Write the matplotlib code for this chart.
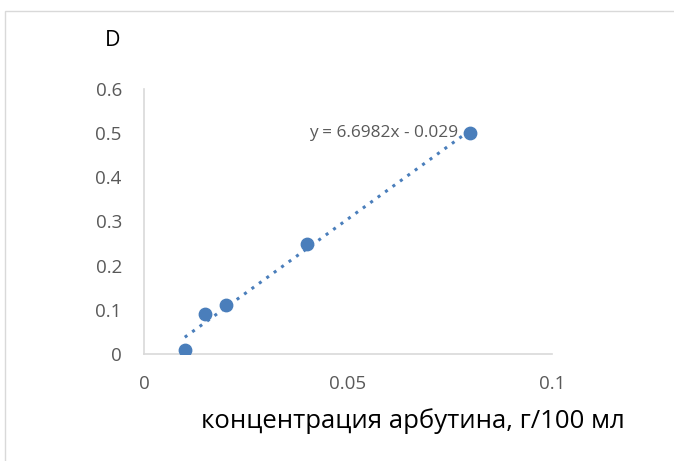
import matplotlib
matplotlib.use('Agg')
import matplotlib.pyplot as plt
from matplotlib.patches import Rectangle
import numpy as np

conc = [0.01, 0.015, 0.02, 0.04, 0.08]
absorb = [0.01, 0.09, 0.11, 0.25, 0.5]
slope, intercept = 6.6982, -0.029
xticks = [0, 0.05, 0.1]
xticklabels = ['0', '0.05', '0.1']
yticks = [0, 0.1, 0.2, 0.3, 0.4, 0.5, 0.6]
yticklabels = ['0', '0.1', '0.2', '0.3', '0.4', '0.5', '0.6']

plt.rcParams['font.family'] = ['Open Sans', 'DejaVu Sans']
blue = '#4a7ebb'
grey = '#595959'

fig = plt.figure(figsize=(6.74, 4.61), dpi=100)
fig.patches.append(Rectangle((5 / 674, -0.1), 1.2, 1.1 - 11 / 461, transform=fig.transFigure,
                             fill=False, edgecolor='#d9d9d9', linewidth=1))
ax = fig.add_axes([144 / 674, 107 / 461, 408 / 674, 265 / 461])

# trendline over the data range
tx = np.array([min(conc), max(conc)])
ax.plot(tx, slope * tx + intercept, linestyle=(0, (1, 2)), color=blue, linewidth=2.2)
ax.scatter(conc, absorb, s=80, color=blue, zorder=3)
ax.text(0.0405, 0.5, 'y = 6.6982x - 0.029', color=grey, fontsize=12.4, va='center', ha='left')

ax.set_xlim(0, 0.1)
ax.set_ylim(0, 0.6)
ax.set_xticks(xticks)
ax.set_xticklabels(xticklabels)
ax.set_yticks(yticks)
ax.set_yticklabels(yticklabels)
ax.tick_params(length=0, labelsize=13.5, labelcolor=grey)
ax.tick_params(axis='x', pad=15)
ax.tick_params(axis='y', pad=16)
for s in ['top', 'right']:
    ax.spines[s].set_visible(False)
for s in ['left', 'bottom']:
    ax.spines[s].set_color('#d9d9d9')
    ax.spines[s].set_linewidth(1.2)

fig.text(413 / 674, 1 - 421 / 461, 'концентрация арбутина, г/100 мл', fontsize=18.5,
         ha='center', va='center', color='black')
fig.text(113 / 674, 1 - 40 / 461, 'D', fontsize=15.5, ha='center', va='center', color='black')

fig.savefig('out.png', dpi=100)
